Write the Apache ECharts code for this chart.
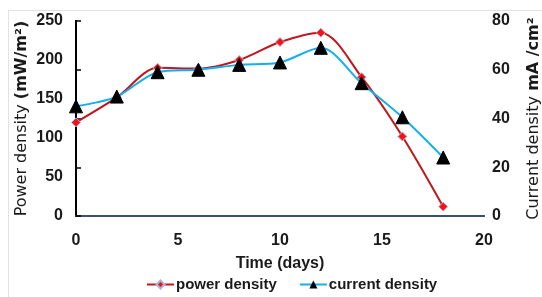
<!DOCTYPE html>
<html>
<head>
<meta charset="utf-8">
<script src="https://cdn.jsdelivr.net/npm/echarts@6/dist/echarts.min.js"></script>
<style>
  html, body { margin: 0; padding: 0; background: #fff; }
  #frame { position: absolute; left: 8px; top: 10px; width: 540px; height: 290px; border: 1px solid #e2e2e2; }
  #main { position: absolute; left: 0; top: 0; width: 542px; height: 297px; }
</style>
</head>
<body>
<div id="frame"></div>
<div id="main"></div>
<script>
// days
const days = [0, 2, 4, 6, 8, 10, 12, 14, 16, 18];
// power density, mW/m2 (left axis)
const powerDensity = [120, 152, 190, 189, 200, 223, 235, 178, 102, 12];
// current density, mA/cm2 (right axis)
const currentDensity = [45, 49, 59, 60, 62, 63, 69, 54.5, 40.5, 24];

const font = 'Liberation Sans';
const nameFont = 'DejaVu Sans';
const txt = '#1a1a1a';

const chart = echarts.init(document.getElementById('main'));

chart.setOption({
  animation: false,
  grid: { left: 76, right: 58, top: 21, bottom: 81, outerBoundsMode: 'none', containLabel: false },
  legend: {
    bottom: 0,
    left: 141,
    itemWidth: 27,
    itemHeight: 10,
    itemGap: 22,
    textStyle: { fontFamily: font, fontSize: 15, fontWeight: 'bold', color: txt, padding: [0, 0, 0, -3] },
    data: ['power density', 'current density']
  },
  xAxis: [{
    type: 'value',
    min: 0, max: 20, interval: 5,
    name: 'Time (days)',
    nameLocation: 'middle',
    nameGap: 40,
    nameMoveOverlap: false,
    nameTextStyle: { fontFamily: font, fontSize: 16, fontWeight: 'bold', color: txt },
    axisLine: { lineStyle: { color: '#000', width: 2 } },
    axisTick: { show: false },
    splitLine: { show: false },
    axisLabel: { fontFamily: font, fontSize: 16, fontWeight: 'bold', color: txt, margin: 17 }
  }, {
    type: 'value',
    position: 'top',
    min: 0, max: 20,
    axisLine: { show: true, lineStyle: { color: '#4f6b97', width: 1.5 } },
    axisTick: { show: false },
    axisLabel: { show: false },
    splitLine: { show: false }
  }],
  yAxis: [{
    type: 'value',
    min: 0, max: 250, interval: 50,
    name: 'Power density {b|(mW/m²)}',
    nameLocation: 'middle',
    nameGap: 46,
    nameMoveOverlap: false,
    nameRotate: 90,
    nameTextStyle: {
      fontFamily: nameFont, fontSize: 16, color: txt,
      rich: { b: { fontFamily: nameFont, fontSize: 16, fontWeight: 'bold', color: txt } }
    },
    axisLine: { show: true, lineStyle: { color: '#000', width: 2 } },
    axisTick: { show: false },
    splitLine: { show: false },
    axisLabel: { fontFamily: font, fontSize: 16, fontWeight: 'bold', color: txt, margin: 13 }
  }, {
    type: 'value',
    position: 'right',
    min: 0, max: 80, interval: 20,
    name: 'Current density {b|mA /cm²}',
    nameLocation: 'middle',
    nameGap: 42,
    nameMoveOverlap: false,
    nameRotate: 90,
    nameTextStyle: {
      fontFamily: nameFont, fontSize: 16, color: txt,
      rich: { b: { fontFamily: nameFont, fontSize: 16, fontWeight: 'bold', color: txt } }
    },
    axisLine: { show: true, lineStyle: { color: '#000', width: 2 } },
    axisTick: { show: true, length: 5, lineStyle: { color: '#000', width: 1.5 } },
    splitLine: { show: false },
    axisLabel: { fontFamily: font, fontSize: 16, fontWeight: 'bold', color: txt, margin: 8 }
  }],
  series: [{
    name: 'power density',
    type: 'line',
    yAxisIndex: 0,
    smooth: 0.3,
    data: days.map((d, i) => [d, powerDensity[i]]),
    symbol: 'diamond',
    symbolSize: 9,
    lineStyle: { color: '#c0161c', width: 2 },
    itemStyle: { color: '#ff1010', borderColor: '#9fb8e0', borderWidth: 1 },
    z: 2
  }, {
    name: 'current density',
    type: 'line',
    yAxisIndex: 1,
    smooth: 0.3,
    data: days.map((d, i) => [d, currentDensity[i]]),
    symbol: 'triangle',
    symbolSize: 13,
    lineStyle: { color: '#12b0ec', width: 2 },
    itemStyle: { color: '#000', borderColor: '#000' },
    z: 3
  }]
});
</script>
</body>
</html>
